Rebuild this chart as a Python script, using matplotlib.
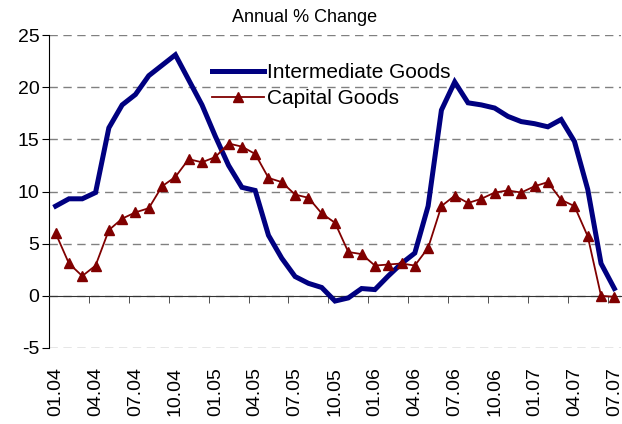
import matplotlib
matplotlib.use('Agg')
import matplotlib.pyplot as plt
import numpy as np

plt.rcParams['font.family'] = ['Liberation Sans', 'DejaVu Sans']
plt.rcParams['axes.unicode_minus'] = False

# monthly data, Jan 2004 .. Jul 2007
tick_labels = ['01.04', '04.04', '07.04', '10.04', '01.05', '04.05', '07.05', '10.05',
               '01.06', '04.06', '07.06', '10.06', '01.07', '04.07', '07.07']
intermediate = [8.6, 9.3, 9.3, 9.9, 16.1, 18.3, 19.3, 21.1, 22.1, 23.1, 20.7, 18.3, 15.3,
                12.5, 10.4, 10.1, 5.8, 3.6, 1.85, 1.2, 0.8, -0.5, -0.2, 0.7, 0.6, 1.9,
                3.1, 4.1, 8.6, 17.8, 20.5, 18.5, 18.3, 18.0, 17.2, 16.7, 16.5, 16.2,
                16.9, 14.8, 10.2, 3.1, 0.7]
capital = [6.0, 3.1, 1.9, 2.9, 6.3, 7.4, 8.0, 8.4, 10.5, 11.4, 13.1, 12.8, 13.3, 14.6,
           14.3, 13.6, 11.3, 10.9, 9.7, 9.4, 7.9, 7.0, 4.2, 4.0, 2.9, 3.0, 3.1, 2.9,
           4.6, 8.6, 9.6, 8.9, 9.3, 9.9, 10.1, 9.9, 10.5, 10.9, 9.2, 8.6, 5.7, 0.0, -0.1]

x = np.arange(len(intermediate))

fig = plt.figure(figsize=(6.22, 4.24), dpi=100)
ax = fig.add_axes([49/622, 1-348/424, 572/622, 313/424])

ax.plot(x, intermediate, color='#000080', lw=3.6, label='Intermediate Goods',
        solid_joinstyle='miter', zorder=3)
ax.plot(x, capital, color='#800000', lw=1.3, marker='^', ms=7.5,
        label='Capital Goods', zorder=4)

ax.set_xlim(-0.5, len(x) - 0.5)
ax.set_ylim(-5, 25)
ax.set_yticks(range(-5, 26, 5))
ax.yaxis.grid(True, ls=(0, (6, 4)), color='#808080', lw=1)
ax.set_axisbelow(True)

for s in ['top', 'right']:
    ax.spines[s].set_visible(False)
ax.spines['left'].set_color('black')
ax.spines['bottom'].set_position(('data', 0))
ax.spines['bottom'].set_color('#333333')

ax.set_xticks(x[::3])
ax.set_xticklabels(tick_labels, rotation=90)
ax.set_xticks(np.arange(-0.5, len(x) - 1, 3)[1:], minor=True)
ax.tick_params(axis='x', which='major', length=0, pad=51, labelsize=14)
ax.tick_params(axis='x', which='minor', length=5, direction='out', color='#333333')
ax.tick_params(axis='y', length=5, direction='out', labelsize=14, pad=2)

fig.text(305/622, 1-17/424, 'Annual % Change', ha='center', va='center', fontsize=13)

ax.legend(loc='upper left', bbox_to_anchor=(212/622, 1-63/424), bbox_transform=fig.transFigure,
          frameon=False, fontsize=15, handlelength=2.5, handletextpad=0.15,
          labelspacing=0.36, borderpad=0, borderaxespad=0)

fig.savefig('out.png', dpi=100)
